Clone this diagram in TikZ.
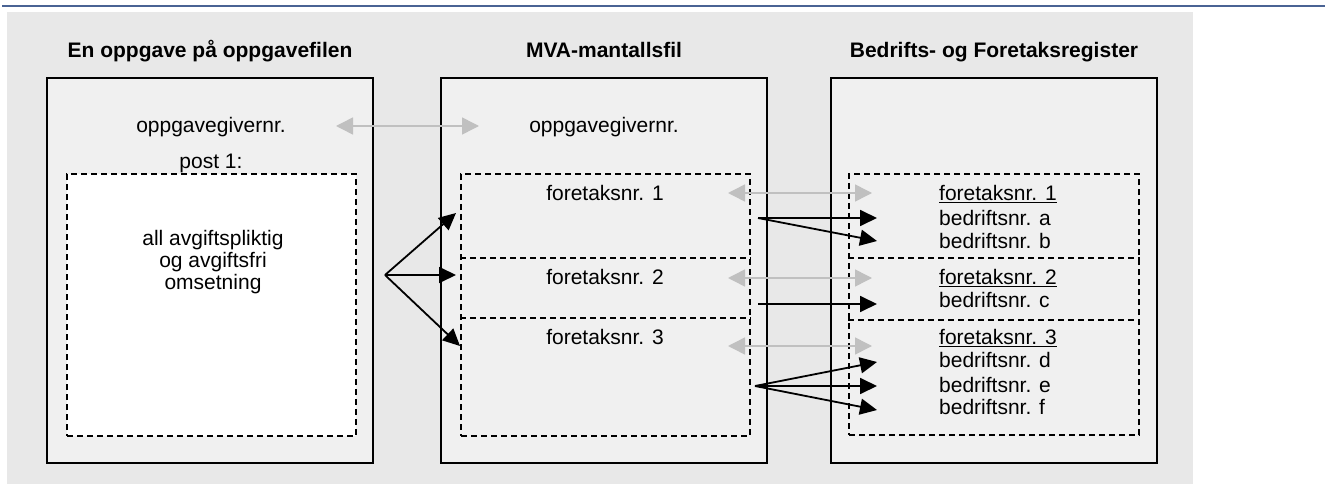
\documentclass[tikz,border=0pt]{standalone}
\usepackage{fontspec}
\setmainfont{Liberation Sans}
\usetikzlibrary{positioning}
\usetikzlibrary{arrows.meta}
\definecolor{bggray}{HTML}{E8E8E8}
\definecolor{boxgray}{HTML}{F0F0F0}
\definecolor{matchgray}{HTML}{C0C0C0}
\definecolor{rulecolor}{HTML}{4A6394}
\tikzset{
    regbox/.style = {rectangle, draw, fill=boxgray, line width=1.6pt, inner sep=0pt,
        minimum width=326, minimum height=385},
    postbox/.style = {rectangle, draw, fill=white, dash pattern=on 6pt off 4pt,
        line width=1.3pt, inner sep=0pt},
    firmbox/.style = {rectangle, draw, dash pattern=on 6pt off 4pt,
        line width=1.3pt, inner sep=0pt},
    divider/.style = {dash pattern=on 6pt off 4pt, line width=1.3pt},
    heading/.style = {font=\fontsize{21}{23}\selectfont\bfseries, anchor=base, inner sep=0pt},
    label/.style = {anchor=base, inner sep=0pt},
    unit/.style = {anchor=base west, inner sep=0pt},
    link/.style = {-{Triangle[length=17pt,width=16pt]}, line width=1.8pt},
    match/.style = {{Triangle[length=17pt,width=17pt]}-{Triangle[length=17pt,width=17pt]},
        draw=matchgray, line width=1.5pt}}

\begin{document}
\begin{tikzpicture}[x=1pt, y=-1pt, font=\fontsize{21}{22}\selectfont]
    \useasboundingbox (0,0) rectangle (1325,484);
    \fill[bggray] (7,12) rectangle (1193,484);
    \draw[rulecolor, line width=2pt] (2,6) -- (1325,6);

    % the three files
    \node[regbox] (oppg) at (210,270.5) {};
    \node[regbox] (mva) at (604,270.5) {};
    \node[regbox] (bof) at (994,270.5) {};
    \node[heading] (oppgT) at (210,58) {En oppgave på oppgavefilen};
    \node[heading] (mvaT) at (604,58) {MVA-mantallsfil};
    \node[heading] (bofT) at (994,58) {Bedrifts- og Foretaksregister};

    % dashed parts
    \node[postbox, minimum width=289, minimum height=262] (post) at (211.5,305) {};
    \node[firmbox, minimum width=289, minimum height=262] (mfirms) at (605.5,305) {};
    \node[firmbox, minimum width=290, minimum height=261] (bfirms) at (994,304.5) {};
    \draw[divider] (mfirms.west |- 0,258) -- (mfirms.east |- 0,258);
    \draw[divider] (mfirms.west |- 0,318) -- (mfirms.east |- 0,318);
    \draw[divider] (bfirms.west |- 0,258) -- (bfirms.east |- 0,258);
    \draw[divider] (bfirms.west |- 0,320) -- (bfirms.east |- 0,320);

    % texts
    \node[label] (ogA) at (211,132) {oppgavegivernr.};
    \node[label] (ogB) at (604,132) {oppgavegivernr.};
    \node[label] (postT) at (211,168) {post 1:};
    \node[align=center, inner sep=0pt] (oms) at (213,262)
        {all avgiftspliktig\\og avgiftsfri\\omsetning};
    \node[label] (mf1) at (605,200.5) {foretaksnr. 1};
    \node[label] (mf2) at (605,284.5) {foretaksnr. 2};
    \node[label] (mf3) at (605,344.5) {foretaksnr. 3};
    \node[unit] (bf1) at (939,200.5) {\underline{foretaksnr. 1}};
    \node[unit] (ba) at (939,225.5) {bedriftsnr. a};
    \node[unit] (bb) at (939,248.5) {bedriftsnr. b};
    \node[unit] (bf2) at (939,284.5) {\underline{foretaksnr. 2}};
    \node[unit] (bc) at (939,307.5) {bedriftsnr. c};
    \node[unit] (bf3) at (939,344.5) {\underline{foretaksnr. 3}};
    \node[unit] (bd) at (939,367.5) {bedriftsnr. d};
    \node[unit] (be) at (939,392.5) {bedriftsnr. e};
    \node[unit] (bfx) at (939,414.5) {bedriftsnr. f};

    % arrow ends
    \coordinate (fork) at (385,275);
    \coordinate (toF1) at (456,213);
    \coordinate (toF2) at (456,275);
    \coordinate (toF3) at (460,346);
    \coordinate (srcA) at (758,218);
    \coordinate (srcB) at (758,304);
    \coordinate (srcC) at (755,386);
    \coordinate (toA) at (877,218);
    \coordinate (toB) at (877,241);
    \coordinate (toC) at (877,304);
    \coordinate (toD) at (877,362);
    \coordinate (toE) at (877,386);
    \coordinate (toF) at (877,410);
    \coordinate (mL0) at (336,126);
    \coordinate (mR0) at (479,126);
    \coordinate (mL1) at (728,193);
    \coordinate (mR1) at (872,193);
    \coordinate (mL2) at (728,278);
    \coordinate (mR2) at (872,278);
    \coordinate (mL3) at (728,346);
    \coordinate (mR3) at (872,346);

    \draw[match] (mL0) -- (mR0);
    \draw[match] (mL1) -- (mR1);
    \draw[match] (mL2) -- (mR2);
    \draw[match] (mL3) -- (mR3);

    \draw[link] (fork) -- (toF1);
    \draw[link] (fork) -- (toF2);
    \draw[link] (fork) -- (toF3);
    \draw[link] (srcA) -- (toA);
    \draw[link] (srcA) -- (toB);
    \draw[link] (srcB) -- (toC);
    \draw[link] (srcC) -- (toD);
    \draw[link] (srcC) -- (toE);
    \draw[link] (srcC) -- (toF);
\end{tikzpicture}
\end{document}
